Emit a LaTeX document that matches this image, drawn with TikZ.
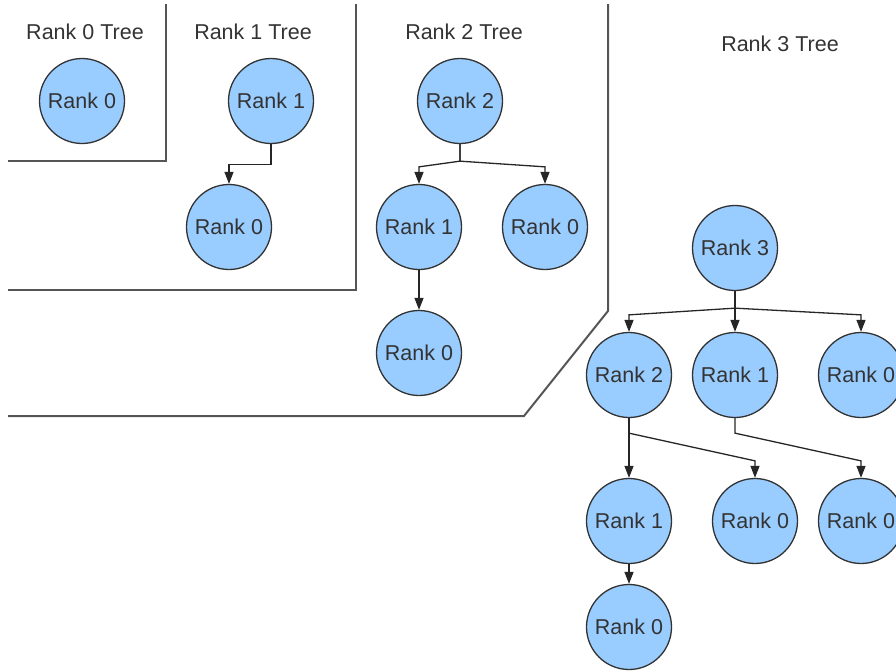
\documentclass[tikz,border=0pt]{standalone}
\usepackage{fontspec}
\setmainfont{Liberation Sans}
\usetikzlibrary{arrows.meta}
\definecolor{nodefill}{HTML}{99CCFF}
\definecolor{inkgray}{HTML}{333333}
\definecolor{wallgray}{HTML}{555555}
\tikzset{
  rank/.style={circle, draw=inkgray, line width=1.3pt, fill=nodefill,
    minimum size=85pt, inner sep=0pt, text=inkgray, font=\fontsize{21.5}{25}\selectfont},
  title/.style={text=inkgray, font=\fontsize{21.5}{25}\selectfont, inner sep=0pt},
  edge/.style={draw=black!85, line width=1.3pt,
    -{Triangle[length=12pt,width=9pt]}},
  wall/.style={draw=wallgray, line width=2pt}
}
\begin{document}
\begin{tikzpicture}[x=1pt, y=-1pt]
  \useasboundingbox (0,0) rectangle (896,670);
  \clip (0,0) rectangle (896,670);

  % separators between the trees
  \draw[wall] (8,161) -- (166,161) -- (166,4);
  \draw[wall] (8,290) -- (356,290) -- (356,4);
  \draw[wall] (8,416) -- (524,416) -- (608,311) -- (608,4);

  % titles
  \node[title] (t0) at (85,32) {Rank 0 Tree};
  \node[title] (t1) at (253,32) {Rank 1 Tree};
  \node[title] (t2) at (464,32) {Rank 2 Tree};
  \node[title] (t3) at (780,44) {Rank 3 Tree};

  % rank 0 tree
  \node[rank] (a0) at (82,101) {Rank 0};

  % rank 1 tree
  \node[rank] (b1) at (271,101) {Rank 1};
  \node[rank] (b0) at (229,227) {Rank 0};
  \draw[edge] (b1.south) -- ([yshift=-20pt]b1.south) -| (b0.north);

  % rank 2 tree
  \node[rank] (c2) at (460,101) {Rank 2};
  \node[rank] (c1) at (419,227) {Rank 1};
  \node[rank] (c0) at (545,227) {Rank 0};
  \node[rank] (c10) at (419,353) {Rank 0};
  \draw[edge] (c2.south) -- ([yshift=-17pt]c2.south) -- ([yshift=17pt]c1.north) -- (c1.north);
  \draw[edge] (c2.south) -- ([yshift=-17pt]c2.south) -- ([yshift=17pt]c0.north) -- (c0.north);
  \draw[edge] (c1.south) -- (c10.north);

  % rank 3 tree
  \node[rank] (d3) at (735,248) {Rank 3};
  \node[rank] (d2) at (629,375) {Rank 2};
  \node[rank] (d1) at (735,375) {Rank 1};
  \node[rank] (d0) at (861,375) {Rank 0};
  \node[rank] (d21) at (629,521) {Rank 1};
  \node[rank] (d20) at (755,521) {Rank 0};
  \node[rank] (d10) at (861,521) {Rank 0};
  \node[rank] (d210) at (629,627) {Rank 0};
  \draw[edge] (d3.south) -- ([yshift=-17pt]d3.south) -- ([yshift=17pt]d2.north) -- (d2.north);
  \draw[edge] (d3.south) -- (d1.north);
  \draw[edge] (d3.south) -- ([yshift=-17pt]d3.south) -- ([yshift=17pt]d0.north) -- (d0.north);
  \draw[edge] (d2.south) -- (d21.north);
  \draw[edge] (d2.south) -- ([yshift=-15pt]d2.south) -- ([yshift=17pt]d20.north) -- (d20.north);
  \draw[edge] (d1.south) -- ([yshift=-15pt]d1.south) -- ([yshift=17pt]d10.north) -- (d10.north);
  \draw[edge] (d21.south) -- (d210.north);
\end{tikzpicture}
\end{document}
